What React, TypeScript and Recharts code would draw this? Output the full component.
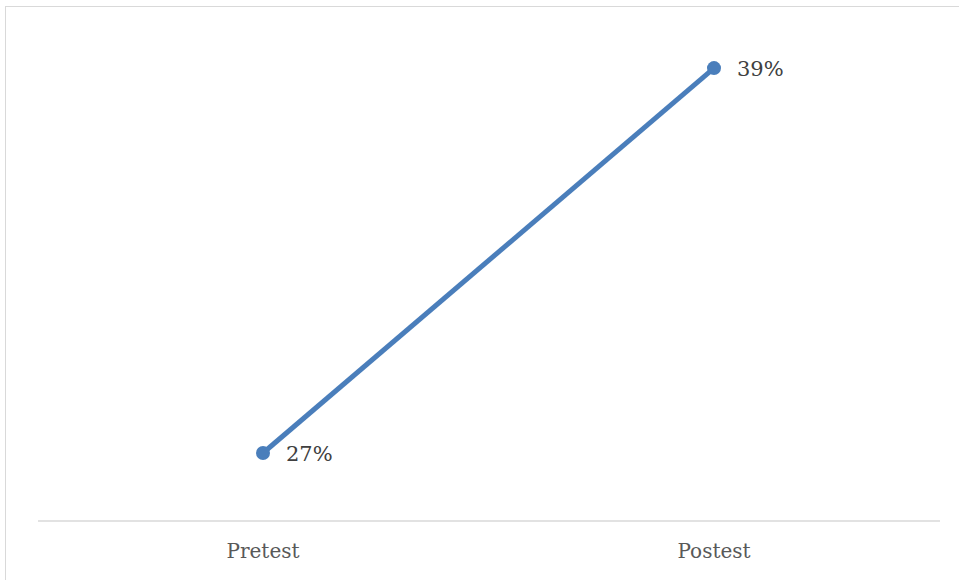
import React from "react";
import { LineChart, Line, XAxis, YAxis, LabelList } from "recharts";

const tests = ["Pretest", "Postest"];
const scores = [27, 39];

const data = tests.map((t, i) => ({ test: t, score: scores[i] }));

const PctLabel = (props: any) => {
    const { x, y, value } = props;
    return (
        <text x={x + 23} y={y} dy="0.36em" fill="#404040" fontSize={21} fontFamily="DejaVu Serif">
            {value}%
        </text>
    );
};

const App = () => {
    return (
        <div style={{ position: "absolute", left: 0, top: 0, width: 959, height: 580, background: "#fff", overflow: "hidden" }}>
            <div style={{ position: "absolute", left: 5, top: 6, width: 980, height: 600, border: "1px solid #d9d9d9" }} />
            <LineChart width={959} height={580} data={data} margin={{ top: 20, right: 19, left: 38, bottom: 0 }}>
                <XAxis
                    dataKey="test"
                    height={59}
                    axisLine={{ stroke: "#d9d9d9", strokeWidth: 1.5 }}
                    tickLine={false}
                    tickSize={0}
                    tickMargin={23}
                    padding={{ left: 225, right: 226 }}
                    tick={{ fill: "#595959", fontSize: 20, fontFamily: "DejaVu Serif" }}
                />
                <YAxis hide domain={[24.88, 40.5]} />
                <Line
                    dataKey="score"
                    stroke="#4a7ebb"
                    strokeWidth={5}
                    dot={{ r: 7, fill: "#4a7ebb", stroke: "#4a7ebb", strokeWidth: 0 }}
                    isAnimationActive={false}
                >
                    <LabelList dataKey="score" content={<PctLabel />} />
                </Line>
            </LineChart>
        </div>
    );
};

export default App;
